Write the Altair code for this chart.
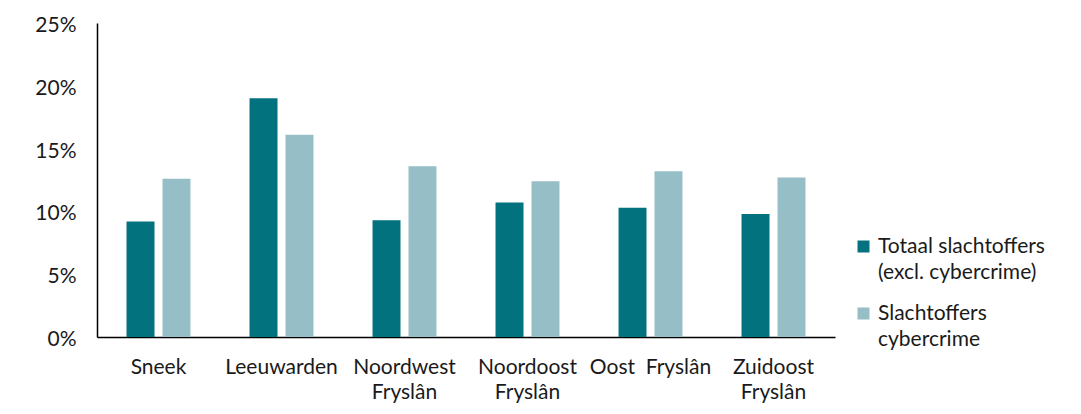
import altair as alt
import pandas as pd

categories = ["Sneek", "Leeuwarden", "Noordwest\nFryslân", "Noordoost\nFryslân", "Oost \u00a0Fryslân", "Zuidoost\nFryslân"]
series = ["Totaal slachtoffers\n(excl. cybercrime)", "Slachtoffers\ncybercrime"]
totaal = [9.2, 19.0, 9.3, 10.7, 10.3, 9.8]
cyber = [12.6, 16.1, 13.6, 12.4, 13.2, 12.7]
colors = ["#03727F", "#96BEC7"]
y_ticks = [0, 0.05, 0.10, 0.15, 0.20, 0.25]

rows = []
for c, a, b in zip(categories, totaal, cyber):
    rows.append({"regio": c, "reeks": series[0], "waarde": a / 100})
    rows.append({"regio": c, "reeks": series[1], "waarde": b / 100})
df = pd.DataFrame(rows)

FONT = "Lato"
TXT = "#1a1a1a"
FS = 21

chart = alt.Chart(df).mark_bar().encode(
    x=alt.X("regio:N", sort=categories, title=None,
            scale=alt.Scale(paddingInner=0.48, paddingOuter=0.24),
            axis=alt.Axis(labelAngle=0, labelExpr="split(datum.label, '\\n')",
                          labelFontSize=FS, labelPadding=19, labelLineHeight=25,
                          ticks=False, domainColor="#000000", domainWidth=1.5,
                          labelColor=TXT, labelFont=FONT)),
    xOffset=alt.XOffset("reeks:N", sort=series,
                        scale=alt.Scale(paddingInner=0.222, paddingOuter=0)),
    y=alt.Y("waarde:Q", title=None,
            scale=alt.Scale(domain=[0, 0.25], nice=False),
            axis=alt.Axis(values=y_ticks, format=".0%", grid=False, ticks=False,
                          labelFontSize=FS, labelPadding=21, labelOffset=2.5,
                          domainColor="#000000",
                          domainWidth=1.5, labelColor=TXT, labelFont=FONT)),
    color=alt.Color("reeks:N", sort=series,
                    scale=alt.Scale(domain=series, range=colors),
                    legend=alt.Legend(title=None, orient="none", legendX=756, legendY=213,
                                      labelExpr="split(datum.label, '\\n')",
                                      labelFontSize=FS,
                                      labelColor=TXT, labelFont=FONT,
                                      symbolType="square", symbolSize=144,
                                      symbolStrokeWidth=0, rowPadding=19, labelOffset=4,
                                      padding=0, labelLimit=400)),
).properties(
    width=738, height=314,
    padding={"left": 26, "top": 6, "right": 5, "bottom": 5},
).configure(
    style={"guide-label": {"lineHeight": 26}},
    view=alt.ViewConfig(stroke=None),
)

chart.save("out.html", embed_options={"renderer": "svg", "actions": False})
